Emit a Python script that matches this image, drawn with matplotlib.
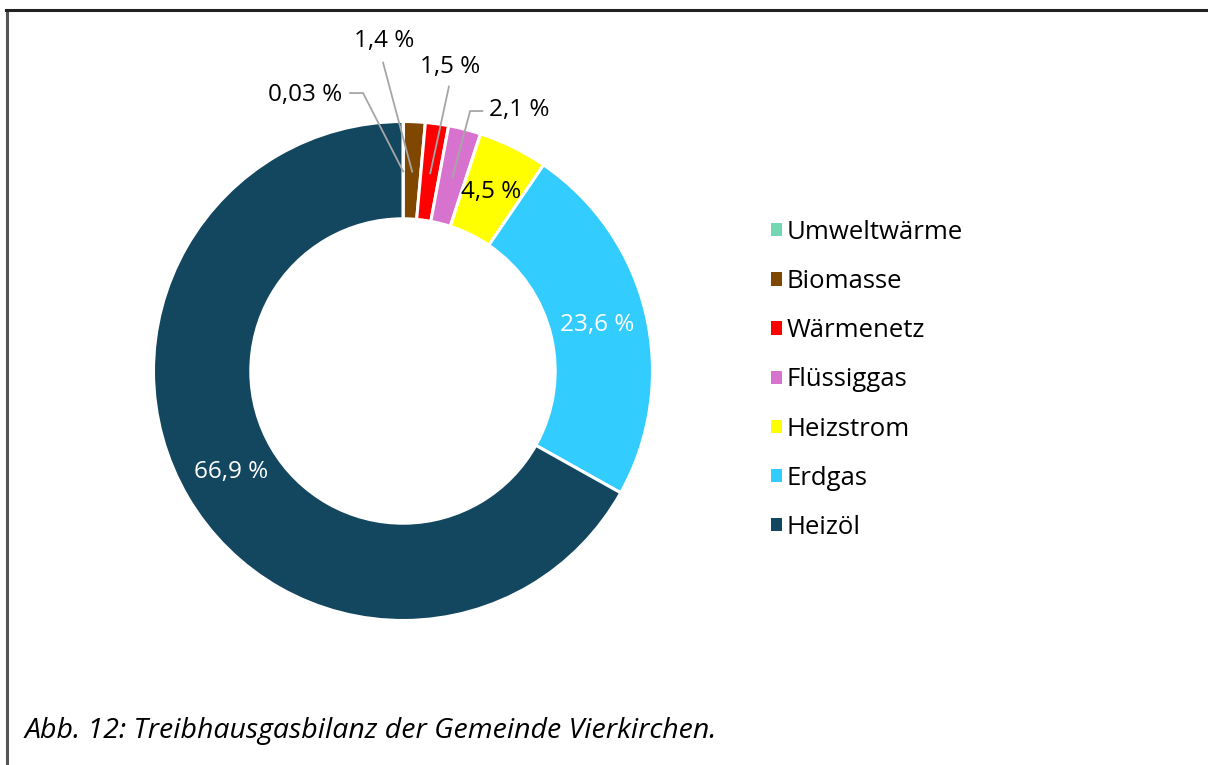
import numpy as np
import matplotlib
matplotlib.use("Agg")
import matplotlib.pyplot as plt
from matplotlib.patches import Patch
from matplotlib.lines import Line2D

plt.rcParams['font.family'] = ['Open Sans', 'DejaVu Sans']

# data
categories = ['Umweltwärme', 'Biomasse', 'Wärmenetz', 'Flüssiggas', 'Heizstrom', 'Erdgas', 'Heizöl']
shares = [0.03, 1.4, 1.5, 2.1, 4.5, 23.6, 66.9]
labels = ['0,03 %', '1,4 %', '1,5 %', '2,1 %', '4,5 %', '23,6 %', '66,9 %']
colors = ['#72d6b3', '#7f4700', '#ff0000', '#d872cf', '#ffff00', '#33ccff', '#12475f']

W, H = 1208, 765
fig = plt.figure(figsize=(W / 100, H / 100), dpi=100)

# pie axes: centre at (403, 371) px, radius ~249.5 px
r_px = 249.5
cx, cy = 403, H - 371
span = 1.5
ax = fig.add_axes([(cx - span * r_px) / W, (cy - span * r_px) / H,
                   2 * span * r_px / W, 2 * span * r_px / H])
ax.axis('off')

wedges, _ = ax.pie(shares, colors=colors, startangle=90, counterclock=False,
                   radius=1.0, wedgeprops=dict(width=0.39, edgecolor='white', linewidth=2.2))
ax.set_xlim(-span, span)
ax.set_ylim(-span, span)

# inside labels
inside = {4: 'black', 5: 'white', 6: 'white'}
for i, w in enumerate(wedges):
    mid = np.deg2rad((w.theta1 + w.theta2) / 2)
    if i in inside:
        ax.text(0.80 * np.cos(mid), 0.80 * np.sin(mid), labels[i], ha='center', va='center',
                fontsize=17.5, color=inside[i])

# outside labels with leader lines (text pos, elbow points)
outside = {
    0: dict(text=(-0.245, 1.106), ha='right', path=[(-0.160, 1.114), (-0.212, 1.114)]),
    1: dict(text=(-0.075, 1.322), ha='center', path=[(-0.08, 1.236)]),
    2: dict(text=(0.19, 1.220), ha='center', path=[(0.184, 1.140)]),
    3: dict(text=(0.345, 1.046), ha='left', path=[(0.269, 1.042), (0.318, 1.042)]),
}
for i, o in outside.items():
    w = wedges[i]
    mid = np.deg2rad((w.theta1 + w.theta2) / 2)
    x0, y0 = 0.80 * np.cos(mid), 0.80 * np.sin(mid)
    xs = [x0] + [p[0] for p in o['path']]
    ys = [y0] + [p[1] for p in o['path']]
    ax.plot(xs, ys, color='#a6a6a6', lw=1.3, clip_on=False)
    ax.text(o['text'][0], o['text'][1], labels[i], ha=o['ha'], va='center',
            fontsize=17.5, color='black', clip_on=False)

# legend
handles = [Patch(facecolor=c, edgecolor='none') for c in colors]
fig.legend(handles, categories, loc='upper left', bbox_to_anchor=(771 / W, 1 - 220 / H),
           frameon=False, fontsize=18.5, handlelength=0.42, handleheight=0.42,
           handletextpad=0.2, labelspacing=0.94, borderaxespad=0, borderpad=0)

# caption
fig.text(25 / W, 1 - 731 / H, 'Abb. 12: Treibhausgasbilanz der Gemeinde Vierkirchen.',
         fontsize=20.5, style='italic', ha='left', va='center')

# frame lines (left and top)
fig.add_artist(Line2D([7 / W, 7 / W], [0, 1 - 9.5 / H], color='#555555', lw=2.2,
                      transform=fig.transFigure))
fig.add_artist(Line2D([6 / W, 1], [1 - 9.5 / H, 1 - 9.5 / H], color='#222222', lw=2.2,
                      transform=fig.transFigure))

fig.savefig('out.png', dpi=100)
